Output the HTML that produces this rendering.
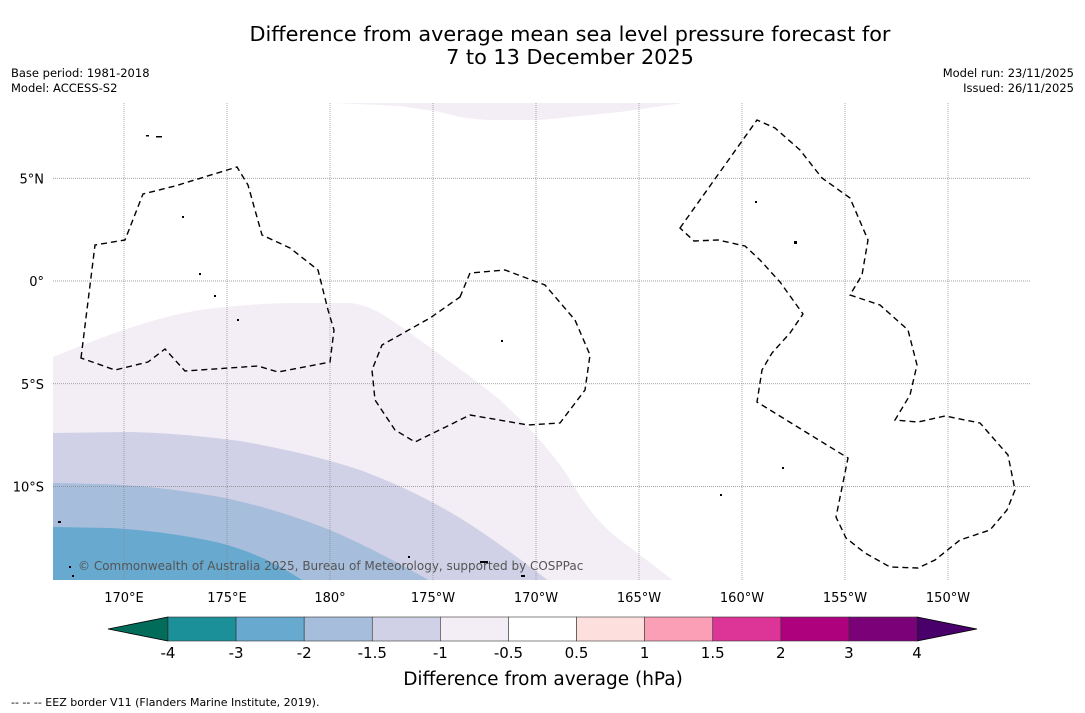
<!DOCTYPE html>
<html><head><meta charset="utf-8"><style>
body{margin:0;background:#fff;}
svg{display:block;font-family:"DejaVu Sans","Liberation Sans",sans-serif;}
</style></head><body>
<svg id="chart" width="1085" height="713" viewBox="0 0 1085 713">
<rect width="1085" height="713" fill="#fff"/>
<text x="570" y="41" font-size="20.8" text-anchor="middle">Difference from average mean sea level pressure forecast for</text>
<text x="570" y="64" font-size="20.8" text-anchor="middle">7 to 13 December 2025</text>
<text x="11" y="77" font-size="11.5">Base period: 1981-2018</text>
<text x="11" y="92" font-size="11.5">Model: ACCESS-S2</text>
<text x="1074" y="77" font-size="11.5" text-anchor="end">Model run: 23/11/2025</text>
<text x="1074" y="92" font-size="11.5" text-anchor="end">Issued: 26/11/2025</text>
<defs><clipPath id="mapclip"><rect x="53" y="103" width="978" height="477"/></clipPath></defs>
<g clip-path="url(#mapclip)">
<path fill="#f3edf5" d="M53,357 C100,338 150,318 200,310 C240,305 270,303 300,303 L350,303 C370,305 385,315 410,333 C440,355 470,375 500,400 C530,428 555,455 570,480 C585,505 600,525 620,540 C640,555 660,570 675,582 L53,582 Z"/>
<path fill="#f3edf5" d="M330,100 L335,103 L400,106 L440,112 C455,116 465,119 490,120 L540,120 L620,112 L690,102 L690,100 Z"/>
<path fill="#d0d1e6" d="M53,433 L130,432 C170,433 200,436 240,441 C280,448 320,457 360,470 C400,485 430,500 460,518 C490,537 515,555 550,582 L53,582 Z"/>
<path fill="#a6bddb" d="M53,483 L100,484 C140,485 180,490 220,497 C260,505 300,518 330,530 C360,543 390,558 432,582 L53,582 Z"/>
<path fill="#67a9cf" d="M53,527 L110,528 C150,530 190,536 220,543 C250,551 275,562 305,582 L53,582 Z"/>
<g id="grid" stroke="#888" stroke-width="0.7" stroke-dasharray="1,1"></g>
<g fill="none" stroke="#000" stroke-width="1.4" stroke-dasharray="6,4">
<path d="M81,358 L95,245 L125,240 L143,194 L175,186 L237,167 L248,185 L262,235 L290,248 L318,270 L328,310 L334,330 L330,362 L278,372 L258,366 L185,371 L165,349 L148,362 L115,370 Z"/>
<path d="M460,297 L470,273 L505,270 L545,285 L575,320 L590,355 L585,390 L560,423 L528,425 L470,415 L415,442 L395,430 L375,400 L372,370 L382,345 L430,318 Z"/>
<path d="M680,228 L757,120 L775,128 L800,150 L822,178 L850,198 L868,240 L862,275 L850,295 L880,305 L908,330 L917,365 L910,395 L895,420 L918,422 L945,416 L980,423 L1008,455 L1015,490 L1007,510 L990,530 L960,540 L935,560 L918,568 L890,567 L865,553 L846,538 L836,517 L848,458 L757,402 L762,370 L772,353 L790,333 L803,314 L780,282 L760,260 L745,246 L718,240 L694,241 Z"/>
</g>
<g fill="#000">
<rect x="146" y="135" width="3" height="1.5"/><rect x="156" y="136" width="6" height="1.5"/><rect x="182" y="216" width="2" height="2"/><rect x="199" y="273" width="2" height="2"/><rect x="214" y="295" width="2" height="2"/><rect x="237" y="319" width="2" height="2"/><rect x="501" y="340" width="2" height="2"/><rect x="794" y="241" width="3" height="3"/><rect x="755" y="201" width="2" height="2"/><rect x="782" y="467" width="2" height="2"/><rect x="720" y="494" width="2" height="2"/><rect x="480" y="561" width="8" height="2"/><rect x="521" y="575" width="4" height="2"/><rect x="58" y="521" width="3" height="2"/><rect x="69" y="566" width="2" height="2"/><rect x="72" y="575" width="2" height="2"/><rect x="408" y="556" width="2" height="2"/>
</g>
</g>
<text x="78" y="570" font-size="12" fill="#555">© Commonwealth of Australia 2025, Bureau of Meteorology, supported by COSPPac</text>
<g id="lonlabels" font-size="13" text-anchor="middle"></g>
<g id="latlabels" font-size="13" text-anchor="end"></g>
<g id="colorbar"></g>
<text x="543" y="685" font-size="18.5" text-anchor="middle">Difference from average (hPa)</text>
<text x="11" y="706" font-size="11">--  --  -- EEZ border V11 (Flanders Marine Institute, 2019).</text>
</svg>
<script>
const lonTicks=[170,175,180,185,190,195,200,205,210];
const lonLabels=["170°E","175°E","180°","175°W","170°W","165°W","160°W","155°W","150°W"];
const latTicks=[5,0,-5,-10];
const latLabels=["5°N","0°","5°S","10°S"];
const cbLevels=["-4","-3","-2","-1.5","-1","-0.5","0.5","1","1.5","2","3","4"];
const cbColors=["#1c9099","#67a9cf","#a6bddb","#d0d1e6","#f3edf5","#ffffff","#fde0dd","#fa9fb5","#dd3497","#ae017e","#7a0177"];
const NS="http://www.w3.org/2000/svg";
const xLon=l=>124+(l-170)*20.6;
const yLat=l=>281-l*20.55;
const grid=document.getElementById('grid');
const lonG=document.getElementById('lonlabels'), latG=document.getElementById('latlabels');
lonTicks.forEach((l,i)=>{
  const ln=document.createElementNS(NS,'line');
  ln.setAttribute('x1',xLon(l));ln.setAttribute('x2',xLon(l));ln.setAttribute('y1',103);ln.setAttribute('y2',580);
  
  
  grid.appendChild(ln);
  const t=document.createElementNS(NS,'text');
  t.setAttribute('x',xLon(l));t.setAttribute('y',602);t.textContent=lonLabels[i];
  
  
  lonG.appendChild(t);
});
latTicks.forEach((l,i)=>{
  const ln=document.createElementNS(NS,'line');
  ln.setAttribute('x1',53);ln.setAttribute('x2',1031);ln.setAttribute('y1',yLat(l));ln.setAttribute('y2',yLat(l));
  
  
  grid.appendChild(ln);
  const t=document.createElementNS(NS,'text');
  t.setAttribute('x',44);t.setAttribute('y',yLat(l)+5);t.textContent=latLabels[i];
  
  
  latG.appendChild(t);
});
const cb=document.getElementById('colorbar');
const x0=168,x1=917,y0=617,h=24,w=(x1-x0)/cbColors.length;
const la=document.createElementNS(NS,'polygon');
la.setAttribute('points',`108,${y0+h/2} ${x0},${y0} ${x0},${y0+h}`);la.setAttribute('fill','#016c59');la.setAttribute('stroke','#000');la.setAttribute('stroke-width','0.8');


cb.appendChild(la);
const ra=document.createElementNS(NS,'polygon');
ra.setAttribute('points',`977,${y0+h/2} ${x1},${y0} ${x1},${y0+h}`);ra.setAttribute('fill','#49006a');ra.setAttribute('stroke','#000');ra.setAttribute('stroke-width','0.8');


cb.appendChild(ra);
cbColors.forEach((c,i)=>{
  const r=document.createElementNS(NS,'rect');
  r.setAttribute('x',x0+i*w);r.setAttribute('y',y0);r.setAttribute('width',w);r.setAttribute('height',h);
  r.setAttribute('fill',c);r.setAttribute('stroke','#333');r.setAttribute('stroke-width','0.6');
  
  
  cb.appendChild(r);
});
cbLevels.forEach((v,i)=>{
  const t=document.createElementNS(NS,'text');
  t.setAttribute('x',x0+i*w);t.setAttribute('y',658);t.setAttribute('font-size','15');t.setAttribute('text-anchor','middle');
  t.textContent=v;
  
  
  cb.appendChild(t);
});
</script>
</body></html>
